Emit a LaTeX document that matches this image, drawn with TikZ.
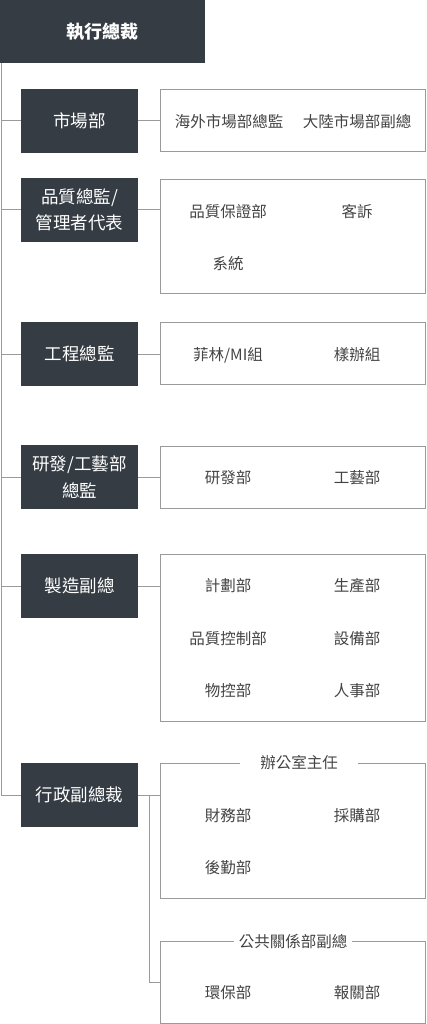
\documentclass[tikz,border=0pt]{standalone}
\usepackage{fontspec}
\setmainfont{Noto Sans CJK TC}
\definecolor{darkc}{HTML}{353C44}
\definecolor{linec}{HTML}{9A9A9A}
\definecolor{textc}{HTML}{444444}
\begin{document}
\begin{tikzpicture}[x=1pt,y=-1pt,
  darkbox/.style={fill=darkc, text=white, minimum width=117pt, minimum height=64pt, inner sep=0pt, align=center, font=\fontsize{17.5}{26.5}\selectfont},
  wbox/.style={draw=linec, line width=1pt, fill=white, inner sep=0pt, anchor=north west},
  item/.style={text=textc, inner sep=0pt, font=\fontsize{15.5}{18}\selectfont},
  boxtitle/.style={fill=white, text=textc, inner sep=0pt, minimum width=118pt, minimum height=18pt, font=\fontsize{15.5}{18}\selectfont},
  conn/.style={draw=linec, line width=1pt}]
\useasboundingbox[fill=white] (0,0) rectangle (426,1024);

% top
\node[fill=darkc, text=white, minimum width=205pt, minimum height=63pt, inner sep=0pt, anchor=north west, font=\fontsize{18}{22}\selectfont\bfseries] (ceo) at (0,0) {執行總裁};
\coordinate (s0) at (1,63);

% dark boxes
\node[darkbox] (d1) at (79.5,121) {市場部};
\node[darkbox] (d2) at (79.5,210) {品質總監/\\管理者代表};
\node[darkbox] (d3) at (79.5,354) {工程總監};
\node[darkbox] (d4) at (79.5,477) {研發/工藝部\\總監};
\node[darkbox] (d5) at (79.5,586) {製造副總};
\node[darkbox] (d6) at (79.5,795) {行政副總裁};

% white boxes
\node[wbox, minimum width=265pt, minimum height=62pt] (w1) at (160,89) {};
\node[wbox, minimum width=265pt, minimum height=114pt] (w2) at (160,179) {};
\node[wbox, minimum width=265pt, minimum height=62pt] (w3) at (160,322) {};
\node[wbox, minimum width=265pt, minimum height=62pt] (w4) at (160,446) {};
\node[wbox, minimum width=265pt, minimum height=167pt] (w5) at (160,554) {};
\node[wbox, minimum width=265pt, minimum height=135pt] (w6) at (160,763) {};
\node[wbox, minimum width=265pt, minimum height=82pt] (w7) at (160,941) {};

% spine and branches
\draw[conn] (s0) |- (d6.west);
\foreach \d in {d1,d2,d3,d4,d5} {
  \draw[conn] (\d.west -| s0) -- (\d.west);
}
\draw[conn] (d1.east) -- (w1.west |- d1.east);
\draw[conn] (d2.east) -- (w2.west |- d2.east);
\draw[conn] (d3.east) -- (w3.west |- d3.east);
\draw[conn] (d4.east) -- (w4.west |- d4.east);
\draw[conn] (d5.east) -- (w5.west |- d5.east);
\draw[conn] (d6.east) -- (w6.west |- d6.east);
\coordinate (b6) at (149,795);
\coordinate (b7) at (149,982);
\draw[conn] (b6) -- (b7) -- (w7.west |- b7);

% items
\node[item] (i11) at (229,122) {海外市場部總監};
\node[item] (i12) at (357,122) {大陸市場部副總};

\node[item] (i21) at (228,212) {品質保證部};
\node[item] (i22) at (357,212) {客訴};
\node[item] (i23) at (228,264) {系統};

\node[item] (i31) at (228,355) {菲林/MI組};
\node[item] (i32) at (357,355) {樣辦組};

\node[item] (i41) at (228,478) {研發部};
\node[item] (i42) at (357,478) {工藝部};

\node[item] (i51) at (228,586) {計劃部};
\node[item] (i52) at (357,586) {生產部};
\node[item] (i53) at (228,639) {品質控制部};
\node[item] (i54) at (357,639) {設備部};
\node[item] (i55) at (228,691) {物控部};
\node[item] (i56) at (357,691) {人事部};

\node[boxtitle] (t6) at (299,763) {辦公室主任};
\node[item] (i61) at (228,816) {財務部};
\node[item] (i62) at (357,816) {採購部};
\node[item] (i63) at (228,868) {後勤部};

\node[boxtitle] (t7) at (293,941) {公共關係部副總};
\node[item] (i71) at (228,993) {環保部};
\node[item] (i72) at (357,993) {報關部};
\end{tikzpicture}
\end{document}
